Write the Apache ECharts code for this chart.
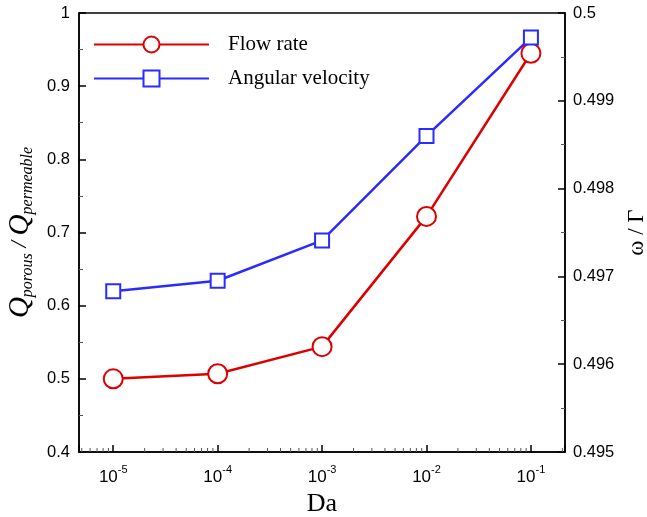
<!DOCTYPE html>
<html>
<head>
<meta charset="utf-8">
<script src="https://cdn.jsdelivr.net/npm/echarts@6/dist/echarts.min.js"></script>
<style>
html,body{margin:0;padding:0;background:#fff;}
#c{width:647px;height:517px;}
</style>
</head>
<body>
<div id="c"></div>
<script>
// Data
const daValues = [1e-5, 1e-4, 1e-3, 1e-2, 1e-1];
const flowRate = [0.500, 0.507, 0.544, 0.722, 0.945];
const angularVelocity = [0.49683, 0.49695, 0.49741, 0.49860, 0.49972];
const xMinorTicks = [5e-6, 6e-6, 7e-6, 8e-6, 9e-6,
  2e-5, 3e-5, 4e-5, 5e-5, 6e-5, 7e-5, 8e-5, 9e-5,
  2e-4, 3e-4, 4e-4, 5e-4, 6e-4, 7e-4, 8e-4, 9e-4,
  2e-3, 3e-3, 4e-3, 5e-3, 6e-3, 7e-3, 8e-3, 9e-3,
  2e-2, 3e-2, 4e-2, 5e-2, 6e-2, 7e-2, 8e-2, 9e-2, 2e-1];

const RED = '#dd0000';
const BLUE = '#2b2bff';
const SERIF = '"Liberation Serif", "Times New Roman", serif';
const SANS = '"Liberation Sans", Arial, sans-serif';

const chart = echarts.init(document.getElementById('c'), null, {renderer: 'canvas'});

const option = {
  backgroundColor: '#fff',
  animation: false,
  grid: {left: 79, right: 82, top: 13, bottom: 65, show: true, borderColor: '#000', borderWidth: 1.5,
    backgroundColor: 'transparent', outerBoundsMode: 'none', containLabel: false},
  legend: {
    data: ['Flow rate', 'Angular velocity'],
    orient: 'vertical',
    left: 88,
    top: 29,
    itemWidth: 115,
    itemHeight: 20,
    itemGap: 13,
    textStyle: {fontFamily: SERIF, fontSize: 21, color: '#000', padding: [0, 0, 0, 14]}
  },
  xAxis: {
    type: 'log',
    logBase: 10,
    min: 4.7e-6,
    max: 0.212,
    name: 'Da',
    nameLocation: 'middle',
    nameGap: 36,
    nameTextStyle: {fontFamily: SERIF, fontSize: 26, color: '#000'},
    axisLine: {lineStyle: {color: '#000', width: 1.5}},
    axisTick: {inside: true, length: 7, lineStyle: {color: '#000', width: 1.5}},
    splitLine: {show: false},
    minorTick: {show: false},
    axisLabel: {
      margin: 12,
      formatter: function (v) {
        const e = Math.log10(v);
        const r = Math.round(e);
        if (Math.abs(e - r) > 1e-6) return '';
        return '{b|10}{s|' + r + '}';
      },
      rich: {
        b: {fontFamily: SANS, fontSize: 17, color: '#000', verticalAlign: 'bottom', lineHeight: 22},
        s: {fontFamily: SANS, fontSize: 11, color: '#000', verticalAlign: 'top', lineHeight: 22}
      }
    }
  },
  yAxis: [
    {
      type: 'value',
      min: 0.4,
      max: 1,
      interval: 0.1,
      position: 'left',
      name: '{q|Q}{s|porous}{m| / }{q|Q}{s|permeable}',
      nameLocation: 'middle',
      nameRotate: 90,
      nameGap: 31,
      nameTextStyle: {
        rich: {
          q: {fontFamily: SERIF, fontStyle: 'italic', fontSize: 29, color: '#000', lineHeight: 32, verticalAlign: 'middle'},
          s: {fontFamily: SERIF, fontStyle: 'italic', fontSize: 16, color: '#000', lineHeight: 32, verticalAlign: 'bottom'},
          m: {fontFamily: SERIF, fontStyle: 'italic', fontSize: 23, color: '#000', lineHeight: 32, verticalAlign: 'middle'}
        }
      },
      axisLine: {show: true, lineStyle: {color: '#000', width: 1.5}},
      axisTick: {show: true, inside: true, length: 7, lineStyle: {color: '#000', width: 1.5}},
      minorTick: {show: true, splitNumber: 2, length: 4, lineStyle: {color: '#555', width: 1}},
      splitLine: {show: false},
      minorSplitLine: {show: false},
      axisLabel: {fontFamily: SANS, fontSize: 16.5, color: '#000', margin: 9}
    },
    {
      type: 'value',
      min: 0.495,
      max: 0.5,
      interval: 0.001,
      position: 'right',
      name: 'ω / Γ',
      nameLocation: 'middle',
      nameRotate: 90,
      nameGap: 55,
      nameTextStyle: {fontFamily: SERIF, fontSize: 23, color: '#000'},
      axisLine: {show: true, lineStyle: {color: '#000', width: 1.5}},
      axisTick: {show: true, inside: true, length: 7, lineStyle: {color: '#000', width: 1.5}},
      minorTick: {show: true, splitNumber: 2, length: 4, lineStyle: {color: '#555', width: 1}},
      splitLine: {show: false},
      minorSplitLine: {show: false},
      axisLabel: {fontFamily: SANS, fontSize: 16.5, color: '#000', margin: 8,
        formatter: function (v) { return String(+v.toFixed(3)); }}
    }
  ],
  series: [
    {
      name: 'Flow rate',
      type: 'line',
      yAxisIndex: 0,
      data: daValues.map((d, i) => [d, flowRate[i]]),
      symbol: 'circle',
      symbolSize: 19,
      z: 3,
      lineStyle: {color: RED, width: 2.5},
      itemStyle: {color: '#fff', borderColor: RED, borderWidth: 2}
    },
    {
      name: 'Angular velocity',
      type: 'line',
      yAxisIndex: 1,
      data: daValues.map((d, i) => [d, angularVelocity[i]]),
      symbol: 'rect',
      symbolSize: 14,
      z: 3,
      lineStyle: {color: BLUE, width: 2.5},
      itemStyle: {color: '#fff', borderColor: BLUE, borderWidth: 2}
    },
    {
      name: 'minorTicks',
      type: 'custom',
      yAxisIndex: 0,
      silent: true,
      clip: true,
      data: xMinorTicks.map(v => [v, 0.4]),
      renderItem: function (params, api) {
        const p = api.coord([api.value(0), api.value(1)]);
        return {
          type: 'line',
          shape: {x1: p[0], y1: p[1], x2: p[0], y2: p[1] - 4},
          style: {stroke: '#555', lineWidth: 1}
        };
      },
      z: 1
    }
  ]
};
chart.setOption(option);
</script>
</body>
</html>
